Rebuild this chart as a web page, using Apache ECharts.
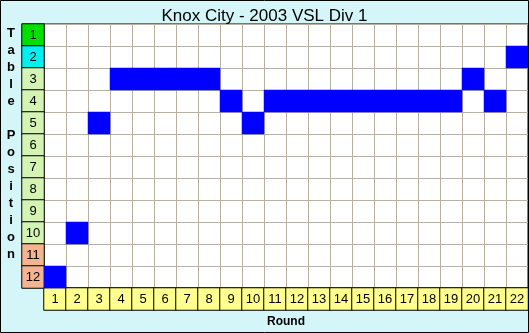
<!DOCTYPE html>
<html><head><meta charset="utf-8">
<script src="https://cdn.jsdelivr.net/npm/echarts@6/dist/echarts.min.js"></script>
<style>html,body{margin:0;padding:0;background:#d4f6f8}#c{width:529px;height:333px}</style>
</head><body><div id="c"></div>
<script>
var rounds = ['1','2','3','4','5','6','7','8','9','10','11','12','13','14','15','16','17','18','19','20','21','22'];
var positionsLabels = ['1','2','3','4','5','6','7','8','9','10','11','12'];
var tablePosition = [12,10,5,3,3,3,3,3,4,5,4,4,4,4,4,4,4,4,4,3,4,2];
var posColors = ['#00e000','#00f0f0','#d4f4b4','#d4f4b4','#d4f4b4','#d4f4b4','#d4f4b4','#d4f4b4','#d4f4b4','#d4f4b4','#f4b490','#f4b490'];

var chart = echarts.init(document.getElementById('c'));
var hid = {show:false};
var cellData = tablePosition.map(function(p,i){return [i, p-1, 1];});
var posData = positionsLabels.map(function(l,i){return {value:[0,i,1], itemStyle:{color:posColors[i]}};});
var roundData = rounds.map(function(l,i){return {value:[i,0,1]};});
var lbl = {show:true, color:'#000', fontFamily:'Arial, Liberation Sans', fontSize:13};
chart.setOption({
  backgroundColor:'#d4f6f8',
  animation:false,
  title:{text:'Knox City - 2003 VSL Div 1', left:'center', top:3,
    textStyle:{fontFamily:'Arial, Liberation Sans', fontSize:17, fontWeight:'normal', color:'#000'}},
  grid:[
    {left:44, top:24, width:484, height:264, show:true, backgroundColor:'#fff', borderColor:'#000', borderWidth:1},
    {left:22, top:24, width:22, height:264},
    {left:44, top:288, width:484, height:22}
  ],
  xAxis:[
    {type:'category', gridIndex:0, data:rounds, axisLabel:hid, axisTick:hid, axisLine:hid,
      splitLine:{show:true, lineStyle:{color:'#b8b0a0', width:1}}},
    {type:'category', gridIndex:1, data:['x'], show:false},
    {type:'category', gridIndex:2, data:rounds, show:false}
  ],
  yAxis:[
    {type:'category', gridIndex:0, data:positionsLabels, inverse:true, axisLabel:hid, axisTick:hid, axisLine:hid,
      splitLine:{show:true, lineStyle:{color:'#b8b0a0', width:1}}},
    {type:'category', gridIndex:1, data:positionsLabels, inverse:true, show:false},
    {type:'category', gridIndex:2, data:['x'], show:false}
  ],
  series:[
    {type:'heatmap', xAxisIndex:0, yAxisIndex:0, data:cellData, itemStyle:{color:'#0000ff'}, emphasis:{disabled:true}, z:5},
    {type:'heatmap', xAxisIndex:1, yAxisIndex:1, data:posData, itemStyle:{borderColor:'#000', borderWidth:1},
      label:Object.assign({formatter:function(p){return positionsLabels[p.value[1]];}}, lbl), emphasis:{disabled:true}},
    {type:'heatmap', xAxisIndex:2, yAxisIndex:2, data:roundData, itemStyle:{color:'#ffff90', borderColor:'#000', borderWidth:1},
      label:Object.assign({formatter:function(p){return rounds[p.value[0]];}}, lbl), emphasis:{disabled:true}}
  ],
  graphic:[
    {type:'text', x:286, y:322, style:{text:'Round', fontFamily:'Arial, Liberation Sans', fontSize:12, fontWeight:'bold', fill:'#000', align:'center', verticalAlign:'middle'}},
    {type:'text', x:11, y:25, style:{text:'T\na\nb\nl\ne\n\nP\no\ns\ni\nt\ni\no\nn', fontFamily:'Arial, Liberation Sans', fontSize:13, fontWeight:'bold', fill:'#000', align:'center', lineHeight:17}},
    {type:'rect', shape:{x:0.5, y:0.5, width:528, height:332}, style:{fill:'none', stroke:'#000', lineWidth:1}, z:100}
  ]
});
</script></body></html>
